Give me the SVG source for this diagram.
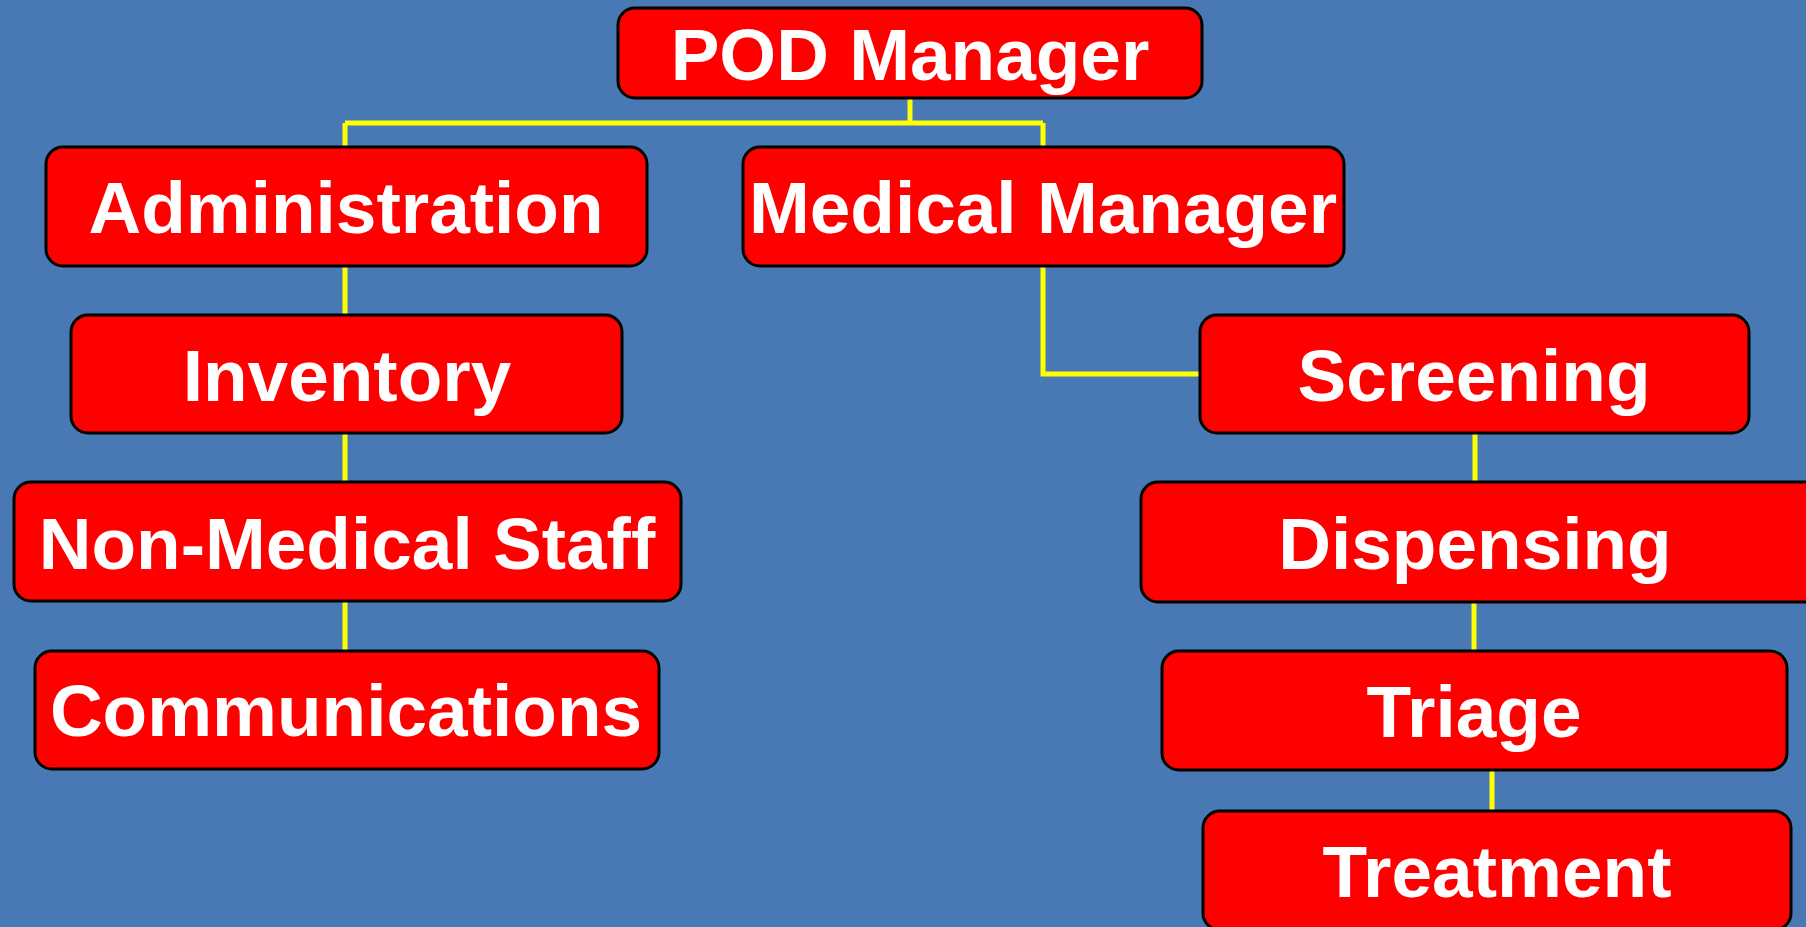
<svg xmlns="http://www.w3.org/2000/svg" width="1806" height="927" viewBox="0 0 1806 927">
<style>
.box{fill:#FF0000;stroke:#000;stroke-width:3}
.lbl{font-family:"Liberation Sans",Arial,sans-serif;font-weight:bold;font-size:73px;fill:#FFF;text-anchor:middle}
.con{fill:none;stroke:#FFFF00;stroke-width:5}
</style>
<rect width="1806" height="927" fill="#4879B4"/>
<g id="connectors">
<path class="con" d="M910 98V123M345 123H1043M345 123V147M1043 123V147"/>
<path class="con" d="M345 266V314M345 433V482M345 601V651"/>
<path class="con" d="M1043 266V374H1200"/>
<path class="con" d="M1475 433V482M1474 602V651M1492 770V811"/>
</g>
<g id="pod-manager"><rect class="box" x="618" y="8" width="584" height="90" rx="17"/><text class="lbl" x="910" y="80">POD Manager</text></g>
<g id="administration"><rect class="box" x="46" y="147" width="601" height="119" rx="17"/><text class="lbl" x="346" y="233">Administration</text></g>
<g id="medical-manager"><rect class="box" x="743" y="147" width="601" height="119" rx="17"/><text class="lbl" x="1043" y="233">Medical Manager</text></g>
<g id="inventory"><rect class="box" x="71" y="315" width="551" height="118" rx="17"/><text class="lbl" x="347" y="401">Inventory</text></g>
<g id="screening"><rect class="box" x="1200" y="315" width="549" height="118" rx="17"/><text class="lbl" x="1474" y="401">Screening</text></g>
<g id="non-medical-staff"><rect class="box" x="14" y="482" width="667" height="119" rx="17"/><text class="lbl" x="347" y="569">Non-Medical Staff</text></g>
<g id="dispensing"><rect class="box" x="1141" y="482" width="680" height="120" rx="17"/><text class="lbl" x="1475" y="569">Dispensing</text></g>
<g id="communications"><rect class="box" x="35" y="651" width="624" height="118" rx="17"/><text class="lbl" x="346" y="736">Communications</text></g>
<g id="triage"><rect class="box" x="1162" y="651" width="625" height="119" rx="17"/><text class="lbl" x="1474" y="737">Triage</text></g>
<g id="treatment"><rect class="box" x="1203" y="811" width="588" height="119" rx="17"/><text class="lbl" x="1497" y="897">Treatment</text></g>
</svg>
